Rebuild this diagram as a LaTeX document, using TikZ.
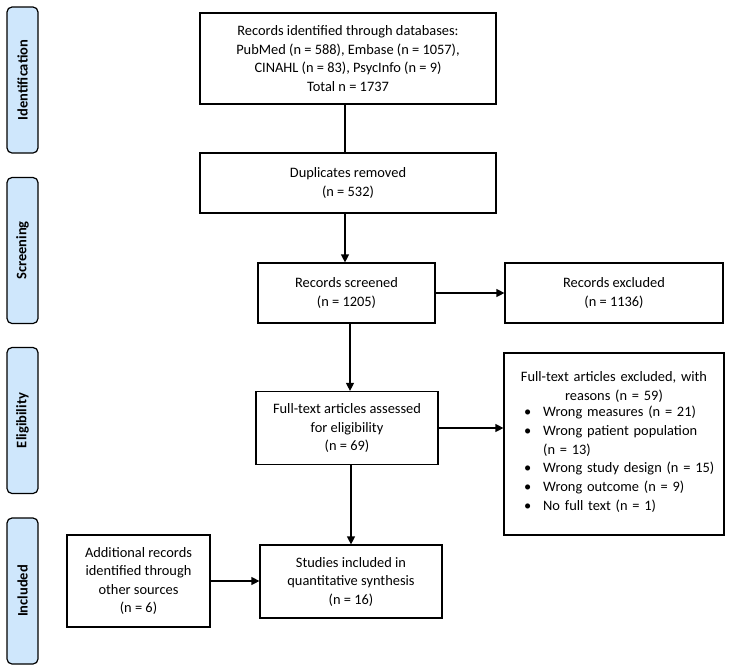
\documentclass[tikz,border=0pt]{standalone}
\usepackage{fontspec}
\setmainfont{Carlito}
\usepackage{tikz}
\usetikzlibrary{positioning,shapes,arrows.meta,calc}
\definecolor{tabblue}{RGB}{207,231,252}
\tikzset{
  block/.style={draw, line width=1.2pt, minimum width=#1, align=center, inner sep=2pt},
  block/.default=180pt,
  phase/.style={draw, line width=1.2pt, rounded corners=5pt, fill=tabblue, minimum width=146pt,
    minimum height=31pt, rotate=90, font=\fontsize{14.5}{17}\selectfont\bfseries},
}

\begin{document}
\begin{tikzpicture}[x=1pt, y=-1pt, >={Triangle[length=8pt,width=8pt]}, line width=1.2pt,
  font=\fontsize{14.4}{18.5}\selectfont]
\useasboundingbox (0,0) rectangle (731,670);

% phase tabs
\node (tabid)  [phase] at (22.5,80)  {Identification};
\node (tabscr) [phase] at (22.5,250.5) {Screening};
\node (tabeli) [phase] at (22.5,420.5) {Eligibility};
\node (tabinc) [phase] at (22.5,591) {Included};

% boxes
\node (ident) [block=296pt, minimum height=91pt] at (348,58.5)
  {Records identified through databases:\\PubMed (n = 588), Embase (n = 1057),\\CINAHL (n = 83), PsycInfo (n = 9)\\Total n = 1737};
\node (dup)   [block=296pt, minimum height=60pt] at (348,183) {Duplicates removed\\(n = 532)};
\node (scr)   [block=177pt, minimum height=60pt] at (346.5,293) {Records screened\\(n = 1205)};
\node (recex) [block=218pt, minimum height=60pt] at (614,293) {Records excluded\\(n = 1136)};
\node (full)  [block=182pt, minimum height=73pt] at (347,428) {Full-text articles assessed\\for eligibility\\(n = 69)};
\node (reasons) [block=220pt, minimum height=182pt, text width=212pt, align=left] at (614,444)
  {{\centering Full-text articles excluded, with\\ reasons (n = 59)\par}
   {\renewcommand{\arraystretch}{1.02}%
   \begin{tabular}{@{\hspace{16pt}}l@{\hspace{12pt}}l@{}}
   \textbullet & Wrong measures (n = 21)\\
   \textbullet & Wrong patient population\\
               & (n = 13)\\
   \textbullet & Wrong study design (n = 15)\\
   \textbullet & Wrong outcome (n = 9)\\
   \textbullet & No full text (n = 1)
   \end{tabular}}\\[11pt]};
\node (incl)  [block=182pt, minimum height=73pt] at (351,581.5) {Studies included in\\quantitative synthesis\\(n = 16)};
\node (addl)  [block=143pt, minimum height=92pt] at (138.5,581) {Additional records\\identified through\\other sources\\(n = 6)};

% main path
\draw (ident.south -| 345,0) -- (dup.north -| 345,0);
\draw[->] (dup.south -| 345,0) -- (scr.north -| 345,0);
\draw[->] (scr.south -| 350,0) -- (full.north -| 350,0);
\draw[->] (full.south -| 351,0) -- (incl.north -| 351,0);

% exclusions
\draw[->] (scr.east) -- (recex.west);
\draw[->] (full.east) -- (full.east -| reasons.west);
\draw[->] (addl.east) -- (addl.east -| incl.west);
\end{tikzpicture}
\end{document}
